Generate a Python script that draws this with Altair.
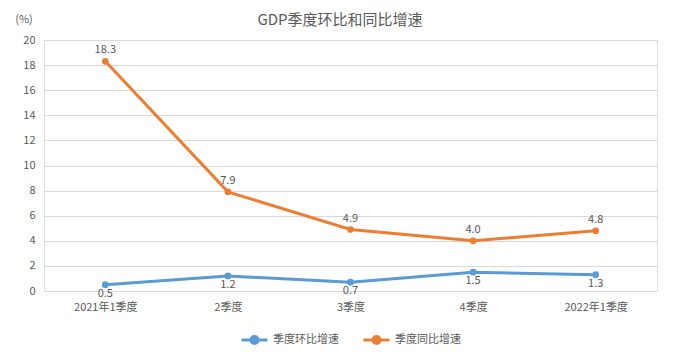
import altair as alt
import pandas as pd

categories = ["2021年1季度", "2季度", "3季度", "4季度", "2022年1季度"]
qoq = [0.5, 1.2, 0.7, 1.5, 1.3]
yoy = [18.3, 7.9, 4.9, 4.0, 4.8]
series_names = ["季度环比增速", "季度同比增速"]
colors = ["#5B9BD5", "#ED7D31"]
y_ticks = [0, 2, 4, 6, 8, 10, 12, 14, 16, 18, 20]

rows = []
for c, v in zip(categories, qoq):
    rows.append({"cat": c, "val": v, "s": series_names[0]})
for c, v in zip(categories, yoy):
    rows.append({"cat": c, "val": v, "s": series_names[1]})
df = pd.DataFrame(rows)

FONT = "Noto Sans CJK SC"
TXT = "#595959"

x = alt.X("cat:N", sort=categories, title=None,
          scale=alt.Scale(paddingInner=0, paddingOuter=0.5),
          axis=alt.Axis(labelAngle=0, labelFont=FONT, labelFontSize=11, labelColor=TXT,
                        ticks=False, domain=True, domainColor="#D9D9D9", labelPadding=10,
                        grid=False, labelOverlap=False))
y = alt.Y("val:Q", title=None,
          scale=alt.Scale(domain=[0, 20], nice=False),
          axis=alt.Axis(values=y_ticks, labelFont=FONT, labelFontSize=11,
                        labelColor=TXT, ticks=False, domain=False, gridColor="#D9D9D9",
                        labelPadding=9, labelOverlap=False))
color = alt.Color("s:N", sort=series_names,
                  scale=alt.Scale(domain=series_names, range=colors),
                  legend=alt.Legend(title=None, orient="none", direction="horizontal",
                                    legendX=196, legendY=285, labelFont=FONT, labelFontSize=11,
                                    labelColor=TXT, columnPadding=18,
                                    symbolType="M-1,0H-0.27A0.27,0.27,0,1,1,0.27,0A0.27,0.27,0,1,1,-0.27,0M0.27,0H1",
                                    symbolSize=676, symbolStrokeWidth=3))

base = alt.Chart(df)
lines = base.mark_line(strokeWidth=3, point=alt.OverlayMarkDef(filled=True, size=45)).encode(
    x=x, y=y, color=color)

lab_q = base.transform_filter(alt.datum.s == series_names[0]).mark_text(
    dy=9, font=FONT, fontSize=11, color=TXT).encode(
    x=x, y=y, text=alt.Text("val:Q", format=".1f"))
lab_y = base.transform_filter(alt.datum.s == series_names[1]).mark_text(
    dy=-11, font=FONT, fontSize=11, color=TXT).encode(
    x=x, y=y, text=alt.Text("val:Q", format=".1f"))

unit = alt.Chart(pd.DataFrame({"t": ["(%)"]})).mark_text(
    font=FONT, fontSize=11, color=TXT, align="center", baseline="middle").encode(
    text="t:N", x=alt.value(-20), y=alt.value(-20))

title = alt.Chart(pd.DataFrame({"t": ["GDP季度环比和同比增速"]})).mark_text(
    font=FONT, fontSize=15, color=TXT, align="center", baseline="middle").encode(
    text="t:N", x=alt.value(296), y=alt.value(-20))

chart = alt.layer(lines, lab_q, lab_y, unit, title).properties(
    width=613, height=251,
    padding={"left": 36, "top": 32, "right": 14, "bottom": 60},
    autosize=alt.AutoSizeParams(type="none"),
).configure_view(stroke=None).configure(background="white")

chart.save("out.html", embed_options={"renderer": "svg", "actions": False})
